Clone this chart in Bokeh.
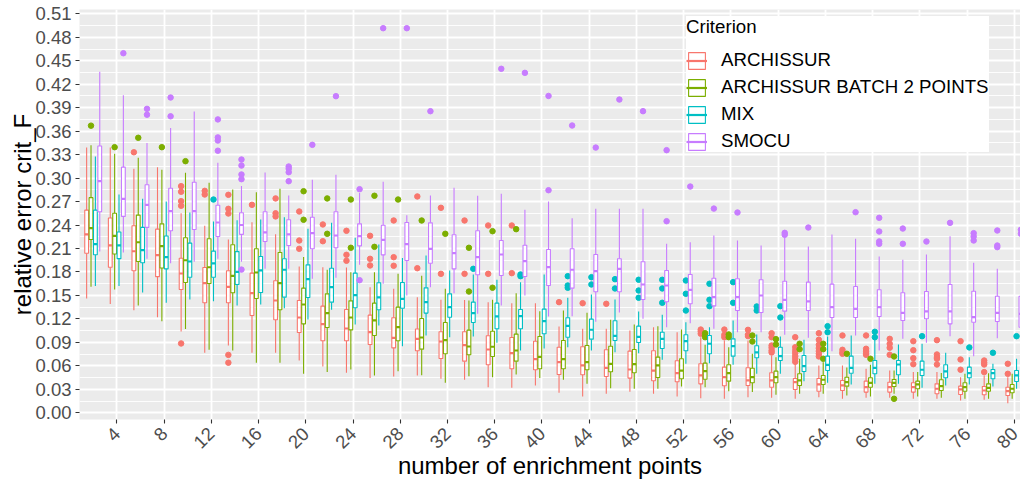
import math
from bokeh.plotting import figure
from bokeh.models import ColumnDataSource, FixedTicker, Range1d, Legend, LegendItem
from bokeh.embed import file_html
from bokeh.resources import INLINE

# ---------------- data ----------------
criteria = ["ARCHISSUR", "ARCHISSUR BATCH 2 POINTS", "MIX", "SMOCU"]
colors = ["#F8766D", "#7CAE00", "#00BFC4", "#C77CFF"]

n_points = [2, 4, 6, 8, 10, 12, 14, 16, 18, 20, 22, 24, 26, 28, 30, 32, 34, 36, 38, 40,
            42, 44, 46, 48, 50, 52, 54, 56, 58, 60, 62, 64, 66, 68, 70, 72, 74, 76, 78, 80]
x_ticks = [4, 8, 12, 16, 20, 24, 28, 32, 36, 40, 44, 48, 52, 56, 60, 64, 68, 72, 76, 80]
y_ticks = [0.00, 0.03, 0.06, 0.09, 0.12, 0.15, 0.18, 0.21, 0.24, 0.27, 0.30, 0.33,
           0.36, 0.39, 0.42, 0.45, 0.48, 0.51]
y_tick_labels = ["0.00", "0.03", "0.06", "0.09", "0.12", "0.15", "0.18", "0.21", "0.24",
                 "0.27", "0.30", "0.33", "0.36", "0.39", "0.42", "0.45", "0.48", "0.51"]

# ARCHISSUR
arch_lo = [.146, .139, .131, .122, .104, .0767, .086, .0767, .0767, .0668, .0592, .0511, .0443, .0464, .0477, .0434, .0422, .0327, .0319, .0349,
           .0256, .0209, .0243, .0268, .0243, .0208, .0187, .0179, .0199, .0192, .0179, .0199, .0179, .0192, .0192, .0179, .0179, .0157, .0166, .0123]
arch_q1 = [.204, .186, .1815, .174, .1576, .1406, .1406, .1244, .1189, .1026, .092, .092, .0873, .083, .0792, .0694, .066, .0613, .0562, .055,
           .049, .0486, .0464, .0443, .0409, .0396, .037, .0345, .0349, .0327, .0298, .0276, .0285, .0264, .0264, .0264, .0243, .0234, .023, .0221]
arch_med = [.228, .214, .2065, .2015, .178, .1657, .161, .153, .1435, .1218, .1133, .1077, .103, .0958, .0945, .0911, .0864, .0809, .0762, .0685,
            .0647, .0605, .0575, .0553, .054, .0506, .0477, .0455, .0413, .0413, .0391, .0362, .0349, .0327, .0327, .0327, .0307, .0298, .0285, .0276]
arch_q3 = [.259, .249, .239, .2347, .1976, .1857, .1815, .1785, .1687, .1435, .1363, .132, .1248, .1214, .107, .1035, .1035, .0984, .0962, .0915,
           .0838, .0843, .0805, .0788, .0792, .0665, .0626, .0583, .0575, .0511, .0438, .0438, .0413, .0404, .0391, .0383, .037, .034, .0336, .0327]
arch_hi = [.339, .339, .312, .314, .255, .239, .2215, .2437, .2283, .187, .186, .1857, .1606, .1585, .1478, .1444, .144, .1414, .1401, .1401,
           .1103, .1074, .1074, .1052, .1094, .103, .0966, .0924, .0924, .0732, .0647, .0605, .0605, .0562, .054, .052, .052, .0455, .0477, .0455]
arch_out = [[], [], [.333], [], [.2897, .2825, .2705, .2646, .0886], [.2837, .279], [.2786, .2607, .2547, .074, .064], [.2658],
            [.274, .255, .251], [.2573, .2202, .2096], [.2407, .2193], [.2326, .2019, .1943], [.2262, .1968, .1883],
            [.2458, .1989, .1879], [.2765, .1848], [.262, .1776], [.2458, .1776], [.2394, .1776], [.2394, .1785], [],
            [.1414], [.1401], [.1393], [], [], [], [.1064, .104, .101], [.1064, .0997, .0966], [.106, .0997, .098],
            [.1017, .0966, .086, .0831, .0796, .0771], [.0966, .0838, .0796, .0762, .0724, .069, .0652],
            [.1017, .0933, .0869, .0826, .0788, .0754, .072], [.0988, .0805, .0775, .0754],
            [.0988, .0818, .0788, .0762, .0741], [.0945, .0882, .0831, .0741], [.0915, .080, .0698, .0621],
            [.0928, .0745, .0711, .069, .0617], [.0915, .0681, .055], [.0668, .064, .0617, .052], [.0626, .0498]]

# ARCHISSUR BATCH 2 POINTS
batch_lo = [.161, .1575, .137, .117, .107, .0805, .0796, .0639, .0639, .0498, .052, .0553, .0477, .0532, .048, .0383, .0468, .0455, .049, .0443,
            .0422, .0371, .0315, .0307, .0307, .0336, .0327, .0276, .0264, .023, .0243, .0243, .0221, .0208, .0243, .0208, .0192, .0179, .0179, .0179]
batch_q1 = [.2215, .203, .1934, .185, .1665, .1653, .1534, .146, .1316, .1137, .109, .106, .0988, .092, .0813, .0754, .0741, .072, .066, .0562,
            .0562, .055, .0524, .0511, .0451, .0434, .0429, .0404, .0383, .0383, .0349, .0362, .034, .0327, .0336, .0307, .0285, .0276, .0276, .0256]
batch_med = [.236, .226, .218, .213, .195, .186, .175, .1793, .1657, .1384, .1274, .1218, .118, .1094, .0962, .0928, .0847, .0844, .0796, .0715,
             .0685, .0647, .0626, .0621, .0605, .054, .0532, .0506, .0455, .0455, .0413, .0422, .0391, .0383, .0383, .0362, .034, .0327, .0319, .0307]
batch_q3 = [.275, .255, .2526, .2415, .2237, .2224, .2147, .2096, .2049, .1593, .152, .1431, .1401, .135, .1205, .1154, .1056, .1043, .1005, .0975,
            .0924, .086, .0851, .0809, .0711, .069, .0634, .0613, .057, .0532, .0498, .0477, .0455, .0447, .0426, .0404, .0422, .0383, .037, .0362]
batch_hi = [.342, .331, .326, .3106, .3067, .294, .2854, .282, .2863, .199, .1828, .1797, .1797, .1776, .175, .1585, .1435, .1444, .1529, .1299,
            .1307, .1278, .1189, .1129, .1107, .1064, .0869, .0838, .0754, .0711, .069, .0647, .058, .0613, .054, .052, .051, .0498, .0506, .0498]
batch_out = [[.367], [.3395], [.3515], [.3395], [.3216], [], [], [], [], [.2832, .2467], [.274, .2288], [.2726, .2109],
             [.2774, .2121], [.2726], [.2458], [.2288], [.2109, .155], [.2321, .1598], [.2347], [],
             [], [], [], [], [], [], [.1017, .0988, .0966], [.1001, .0966], [.0988, .0911], [.0941, .0873],
             [.0882, .0813], [.0882, .0813, .069], [.0754], [.069], [.072, .0179], [], [], [], [], []]

# MIX
mix_lo = [.162, .162, .1538, .1406, .1448, .1427, .137, .1384, .1337, .1192, .1316, .1129, .1116, .0851, .0988, .0966, .0975, .0895, .0796, .0822,
          .0838, .0796, .0775, .0762, .0677, .0626, .0634, .0613, .0498, .0498, .0404, .0383, .0362, .037, .037, .0319, .0349, .0362, .0336, .0307]
mix_q1 = [.202, .197, .1917, .184, .1733, .1733, .164, .1538, .1478, .1474, .1414, .1342, .1316, .1337, .1274, .1222, .1154, .1074, .1074, .101,
          .0966, .0941, .0924, .0898, .0822, .0792, .0754, .0724, .0703, .0668, .0528, .054, .0506, .0498, .0486, .0477, .0447, .0447, .0434, .040]
mix_med = [.2155, .214, .208, .199, .1934, .191, .18, .182, .1828, .1708, .1606, .1503, .1474, .1457, .1414, .135, .1274, .1231, .1235, .1171,
           .1112, .1061, .0984, .0971, .0945, .0915, .0882, .0851, .0771, .0724, .0596, .0613, .0575, .0575, .0617, .055, .0528, .0506, .0506, .0477]
mix_q3 = [.259, .231, .237, .226, .2168, .2066, .206, .1998, .1968, .1891, .1848, .1785, .1662, .1665, .1597, .152, .1414, .1401, .132, .1325,
          .1214, .1197, .1176, .1107, .103, .0997, .0988, .0945, .0856, .0838, .0732, .0724, .0724, .0668, .0668, .066, .0613, .0583, .0553, .054]
mix_hi = [.3276, .279, .2735, .27, .256, .2445, .246, .247, .25, .2352, .2428, .2237, .2151, .198, .201, .1819, .1768, .17, .167, .1768,
          .147, .1512, .1448, .1295, .1253, .1158, .1094, .118, .1001, .0975, .0933, .0975, .0988, .0937, .0873, .0882, .0767, .0711, .0626, .069]
mix_out = [[], [], [], [], [], [.2726], [], [], [], [], [], [], [], [], [], [], [.184], [], [.1768, .1746], [],
           [.1746, .1627, .1598], [.1733, .164], [.1708, .1589], [.17, .1563, .147], [.17, .1589, .1406],
           [.1691, .1521, .1307], [.1649, .1444, .1363], [.167, .1406], [.1359, .1307], [.1363, .1218],
           [], [.1107, .103], [], [.1035, .0966], [], [.0979], [], [.0835], [.0767], [.0979]]

# SMOCU
smocu_lo = [.206, .205, .197, .191, .193, .197, .193, .184, .184, .1713, .1725, .1891, .1649, .1499, .1606, .1529, .1265, .1371, .1499, .1231,
            .1235, .1163, .1282, .1201, .1094, .1145, .1074, .103, .103, .0997, .0958, .0788, .0988, .0796, .0945, .0895, .0979, .0724, .0954, .098]
smocu_q1 = [.257, .251, .237, .2326, .2343, .2253, .228, .219, .2138, .2096, .2109, .2134, .2019, .1947, .1912, .184, .1764, .1755, .1742, .1627,
            .1593, .1547, .1547, .1448, .1419, .1393, .1367, .1307, .1282, .1299, .1307, .1218, .1218, .1231, .118, .1201, .1137, .1158, .1167, .1094]
smocu_med = [.296, .2735, .2658, .2577, .2577, .2432, .24, .2305, .228, .2296, .2266, .2257, .2211, .2155, .2096, .204, .1989, .2023, .1938, .1861,
             .1828, .181, .184, .164, .1627, .1572, .1478, .1478, .1499, .1444, .1423, .135, .1329, .135, .1278, .1295, .1295, .1222, .1278, .1265]
smocu_q3 = [.341, .314, .2914, .287, .2947, .2653, .2556, .257, .2467, .25, .257, .2415, .2398, .2432, .2428, .2275, .2326, .2202, .2142, .2087,
            .2096, .2023, .1968, .193, .1819, .1768, .172, .1713, .17, .1682, .167, .1644, .1614, .1572, .1534, .155, .164, .1554, .149, .149]
smocu_hi = [.436, .406, .345, .364, .385, .3195, .290, .307, .2777, .2978, .3042, .281, .2952, .2526, .2777, .2876, .2774, .280, .2595, .270,
            .2488, .2607, .2607, .2607, .216, .2181, .2266, .2202, .2138, .2245, .2126, .2279, .2224, .1998, .1955, .2023, .2257, .1917, .184, .200]
smocu_out = [[], [.4596], [.3885, .381], [.403, .379], [], [.375, .352, .348, .335], [.3237, .316, .3046, .2986, .183], [],
             [.3148, .3119, .3075, .296], [.3425], [.4047], [.2858, .1695], [.4916], [.4916], [.3855], [], [], [.4397],
             [.4345], [.405, .2845], [.3672], [.339], [.4004], [.3855], [.3357, .2449], [.2892], [.261], [.256], [],
             [.230, .2275], [.2368], [], [.2564], [.2492, .2317, .219, .216], [.2355, .216], [.2189], [.2428],
             [.2296, .2253, .2202], [.233, .2138, .2117], [.234, .2288]]

series = [
    (arch_lo, arch_q1, arch_med, arch_q3, arch_hi, arch_out),
    (batch_lo, batch_q1, batch_med, batch_q3, batch_hi, batch_out),
    (mix_lo, mix_q1, mix_med, mix_q3, mix_hi, mix_out),
    (smocu_lo, smocu_q1, smocu_med, smocu_q3, smocu_hi, smocu_out),
]

# ---------------- figure ----------------
FONT = "Liberation Sans"
dodge = [-0.555, -0.185, 0.185, 0.555]
box_w = 0.32

p = figure(width=1020, height=482, output_backend="svg", toolbar_location=None,
           x_range=Range1d(0.84, 80.52), y_range=Range1d(-0.0086, 0.5155),
           min_border_left=79, min_border_right=0, min_border_top=9, min_border_bottom=0)
p.background_fill_color = "#EBEBEB"
p.border_fill_color = "white"
p.outline_line_color = None

p.xaxis.ticker = FixedTicker(ticks=x_ticks)
minor_y = [(a + b) / 2 for a, b in zip(y_ticks[:-1], y_ticks[1:])]
p.yaxis.ticker = FixedTicker(ticks=y_ticks, minor_ticks=minor_y)
p.yaxis.major_label_overrides = {t: s for t, s in zip(y_ticks, y_tick_labels)}

for ax in (p.xaxis[0], p.yaxis[0]):
    ax.axis_line_color = None
    ax.major_tick_line_color = "#333333"
    ax.major_tick_line_width = 1.1
    ax.major_tick_out = 4
    ax.major_tick_in = 0
    ax.minor_tick_out = 0
    ax.minor_tick_in = 0
    ax.major_label_text_font = FONT
    ax.major_label_text_font_size = "18.5px"
    ax.major_label_text_color = "#4D4D4D"
    ax.axis_label_text_font = FONT
    ax.axis_label_text_font_size = "24px"
    ax.axis_label_text_font_style = "normal"
    ax.axis_label_text_color = "black"

p.xaxis.axis_label = "number of enrichment points"
p.yaxis.axis_label = "relative error crit_F"
p.xaxis.major_label_orientation = math.pi / 4
p.xaxis.major_label_standoff = 7
p.xaxis.axis_label_standoff = -5
p.yaxis.major_label_standoff = 4
p.yaxis.axis_label_standoff = -4

p.xgrid.grid_line_color = "white"
p.xgrid.grid_line_width = 1.8
p.ygrid.grid_line_color = "white"
p.ygrid.grid_line_width = 1.8
p.ygrid.minor_grid_line_color = "white"
p.ygrid.minor_grid_line_width = 0.9

items = []
for j, (name, col) in enumerate(zip(criteria, colors)):
    lo, q1, med, q3, hi, outs = series[j]
    xs = [n + dodge[j] for n in n_points]
    src = ColumnDataSource(dict(
        x=xs, left=[x - box_w / 2 for x in xs], right=[x + box_w / 2 for x in xs],
        lo=lo, q1=q1, med=med, q3=q3, hi=hi))
    p.segment(x0="x", y0="q3", x1="x", y1="hi", source=src, line_color=col, line_width=1.1)
    p.segment(x0="x", y0="lo", x1="x", y1="q1", source=src, line_color=col, line_width=1.1)
    qr = p.quad(left="left", right="right", bottom="q1", top="q3", source=src,
                fill_color="white", line_color=col, line_width=1.1)
    mr = p.segment(x0="left", y0="med", x1="right", y1="med", source=src,
                   line_color=col, line_width=2.2)
    ox, oy = [], []
    for x, ol in zip(xs, outs):
        for v in ol:
            ox.append(x)
            oy.append(v)
    p.scatter(ox, oy, size=5.5, fill_color=col, line_color=col)
    items.append(LegendItem(label=name, renderers=[qr, mr]))

legend = Legend(items=items, location=(607, 267), title="Criterion",
                title_text_font=FONT, title_text_font_size="18.7px", title_text_font_style="normal",
                title_text_color="black", title_standoff=11,
                label_text_font=FONT, label_text_font_size="18.7px", label_text_color="black",
                glyph_width=21, glyph_height=21, label_standoff=14, spacing=5,
                padding=7, margin=0, background_fill_color="white", background_fill_alpha=1.0,
                border_line_color=None)
p.add_layout(legend)

open("out.html", "w").write(file_html(p, INLINE))
